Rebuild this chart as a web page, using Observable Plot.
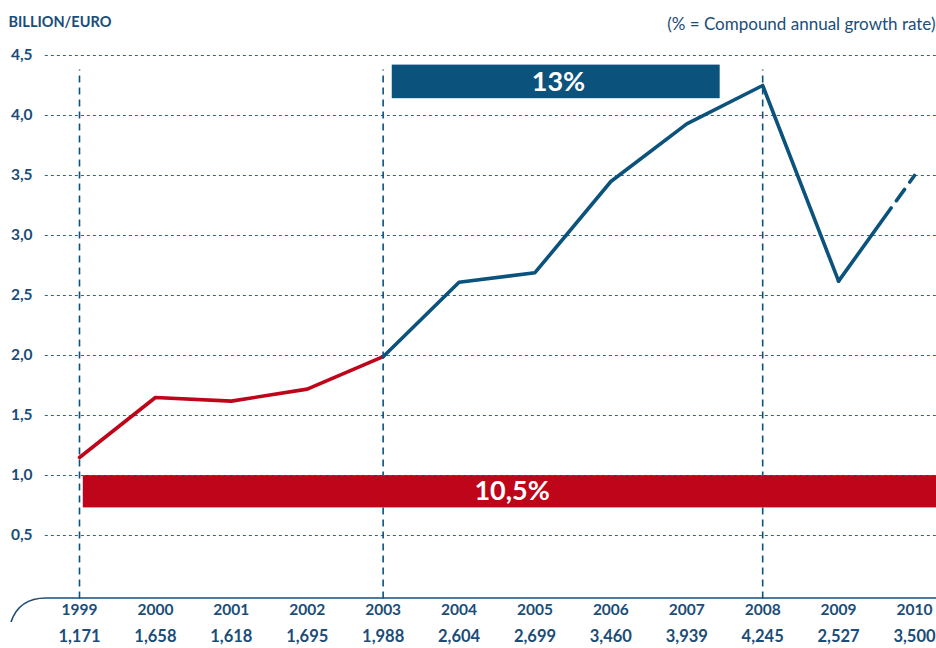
<!DOCTYPE html>
<html>
<head>
<meta charset="utf-8">
<script src="https://cdn.jsdelivr.net/npm/d3@7"></script>
<script src="https://cdn.jsdelivr.net/npm/@observablehq/plot@0.6"></script>
<style>
  html, body { margin: 0; padding: 0; background: #fff; }
  svg { font-family: Lato, "Open Sans", sans-serif; }
</style>
</head>
<body>
<div id="chart"></div>
<script>
const years = [1999, 2000, 2001, 2002, 2003, 2004, 2005, 2006, 2007, 2008, 2009, 2010];
// plotted positions
const values = [1.15, 1.65, 1.62, 1.72, 1.99, 2.61, 2.69, 3.45, 3.93, 4.25, 2.62, 3.5];
const valueLabels = ["1,171", "1,658", "1,618", "1,695", "1,988", "2,604", "2,699", "3,460", "3,939", "4,245", "2,527", "3,500"];
const yTicks = [0.5, 1.0, 1.5, 2.0, 2.5, 3.0, 3.5, 4.0, 4.5];
const markerYears = [1999, 2003, 2008];
const growthBands = [
  {label: "13%", x1: 2003.12, x2: 2007.44, y1: 4.14, y2: 4.42, color: "#0b527d"},
  {label: "10,5%", x1: 1999.05, x2: 2010.35, y1: 0.73, y2: 1.0, color: "#be0519"}
];
const titleText = "BILLION/EURO";
const subtitleText = "(% = Compound annual growth rate)";

const BLUE = "#0b527d";
const RED = "#be0519";
const TEXT = "#1a4d78";

const data = years.map((y, i) => ({year: y, value: values[i], label: valueLabels[i]}));
const redPart = data.filter(d => d.year <= 2003);
const bluePart = data.filter(d => d.year >= 2003 && d.year <= 2009);
const lastPart = data.filter(d => d.year >= 2009);

const decor = (index, scales, values, dims, context) => {
  const x0 = scales.x(1999) - 38;
  const yb = scales.y(0) + 3;
  const g = d3.create("svg:g");
  g.append("path")
    .attr("d", `M${x0 - 30},${yb + 24} Q${x0 - 22},${yb} ${x0 + 5},${yb} L${dims.width},${yb}`)
    .attr("fill", "none").attr("stroke", TEXT).attr("stroke-width", 1.6);
  return g.node();
};

const chart = Plot.plot({
  width: 936,
  height: 648,
  marginLeft: 79,
  marginRight: 22,
  marginTop: 55,
  marginBottom: 53,
  x: {domain: [1999, 2010], axis: null},
  y: {domain: [0, 4.5], axis: null},
  marks: [
    Plot.ruleY(yTicks, {x1: 1998.55, x2: 2010.35, stroke: "#2b6589", strokeWidth: 1.2, strokeDasharray: "3,3"}),
    Plot.ruleX(markerYears, {y1: -0.03, y2: 4.38, stroke: BLUE, strokeWidth: 1.6, strokeDasharray: "7,5"}),
    Plot.rectY(growthBands, {x1: "x1", x2: "x2", y1: "y1", y2: "y2", fill: "color"}),
    Plot.ruleY([1.0], {x1: 1999.05, x2: 2010.35, stroke: "#2b6589", strokeWidth: 1.2, strokeDasharray: "3,3"}),
    Plot.text(growthBands, {x: d => (d.label === "13%" ? (d.x1 + d.x2) / 2 + 0.03 : 2004.7), y: d => (d.y1 + d.y2) / 2, text: "label", fill: "white", fontSize: 27, fontWeight: "bold"}),
    Plot.line(redPart, {x: "year", y: "value", stroke: RED, strokeWidth: 3.6}),
    Plot.line(bluePart, {x: "year", y: "value", stroke: BLUE, strokeWidth: 3.6}),
    Plot.line(lastPart, {x: "year", y: "value", stroke: BLUE, strokeWidth: 3.6, strokeDasharray: "90,9,14,9,14,9,20"}),
    decor,
    Plot.text(yTicks, {x: 1999, y: d => d, text: d => d.toFixed(1).replace(".", ","), textAnchor: "end", dx: -47, fill: TEXT, fontSize: 15.5, fontWeight: "bold"}),
    Plot.text(data, {x: "year", frameAnchor: "bottom", text: d => String(d.year), dy: 19, fill: TEXT, fontSize: 15.5, fontWeight: "bold"}),
    Plot.text(data, {x: "year", frameAnchor: "bottom", text: "label", dy: 46, fill: TEXT, fontSize: 16.5, fontWeight: "bold"}),
    Plot.text([titleText], {frameAnchor: "top-left", dx: -71, dy: -39, text: d => d, fill: TEXT, fontSize: 14.5, fontWeight: "bold", textAnchor: "start"}),
    Plot.text([subtitleText], {frameAnchor: "top-right", dx: 21, dy: -38, text: d => d, fill: TEXT, fontSize: 17, textAnchor: "end"})
  ]
});
document.getElementById("chart").appendChild(chart);
</script>
</body>
</html>
